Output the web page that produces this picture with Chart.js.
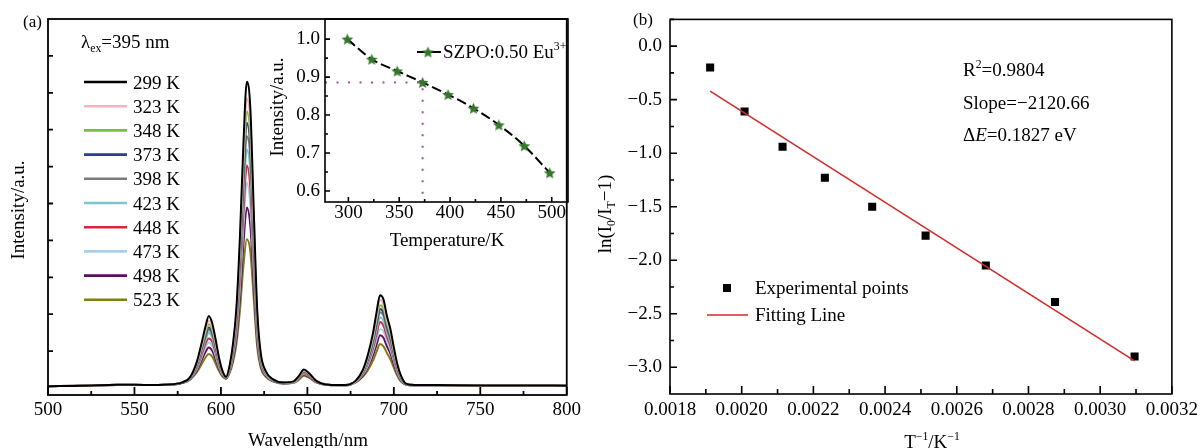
<!DOCTYPE html>
<html>
<head>
<meta charset="utf-8">
<script src="https://cdn.jsdelivr.net/npm/chart.js@4.4.0/dist/chart.umd.min.js"></script>
<style>
  body { margin: 0; background: #fff; }
  #wrap { position: relative; width: 1203px; height: 448px; overflow: hidden; background: #fff; }
  canvas { position: absolute; top: 0; }
  #ca { left: 0; }
  #ci { left: 270px; }
  #cb { left: 585px; }
</style>
</head>
<body>
<div id="wrap">
  <canvas id="ca" width="585" height="448"></canvas>
  <canvas id="ci" width="315" height="260"></canvas>
  <canvas id="cb" width="618" height="448"></canvas>
</div>
<script>
// ---- panel (a): emission spectra ----
const wavelength = [500,520,540,560,572,578,582,586,589,591,593,595,597,599,601,603,605,607,609,611,613,615,617,619,621,623,626,630,636,642,645,648,651,655,662,672,678,682,685,688,690,692,694,696,698,700,702,704,707,712,725,750,775,800];
const s299 = [0.05,0.06,0.09,0.08,0.10,0.16,0.28,0.70,1.25,1.65,1.95,1.75,1.30,0.80,0.45,0.30,0.60,1.20,2.20,4.10,6.60,8.30,7.60,4.80,2.10,0.95,0.45,0.24,0.15,0.18,0.32,0.50,0.40,0.20,0.09,0.08,0.20,0.48,0.90,1.50,2.05,2.51,2.40,1.95,1.60,1.10,0.65,0.35,0.12,0.08,0.08,0.07,0.07,0.06];
const s323 = [0.05,0.06,0.09,0.08,0.10,0.16,0.27,0.67,1.19,1.56,1.82,1.65,1.23,0.76,0.43,0.30,0.58,1.15,2.09,3.88,6.24,7.84,7.17,4.54,1.99,0.91,0.43,0.23,0.15,0.18,0.31,0.48,0.39,0.20,0.09,0.08,0.19,0.46,0.85,1.42,1.93,2.39,2.26,1.84,1.51,1.04,0.62,0.33,0.12,0.08,0.08,0.07,0.07,0.06];
const s348 = [0.05,0.06,0.09,0.08,0.10,0.16,0.27,0.64,1.13,1.48,1.73,1.57,1.17,0.73,0.42,0.29,0.56,1.10,2.00,3.70,5.94,7.50,6.82,4.32,1.90,0.87,0.42,0.23,0.14,0.17,0.30,0.46,0.38,0.19,0.09,0.08,0.19,0.44,0.82,1.35,1.84,2.24,2.15,1.75,1.44,0.99,0.59,0.32,0.11,0.08,0.08,0.07,0.07,0.06];
const s373 = [0.05,0.06,0.09,0.08,0.10,0.15,0.26,0.62,1.09,1.42,1.64,1.50,1.12,0.70,0.41,0.29,0.54,1.06,1.92,3.54,5.68,7.19,6.51,4.13,1.82,0.84,0.41,0.22,0.14,0.17,0.29,0.45,0.37,0.19,0.09,0.08,0.19,0.43,0.78,1.29,1.75,2.14,2.04,1.67,1.37,0.95,0.56,0.30,0.11,0.08,0.08,0.07,0.07,0.06];
const s398 = [0.05,0.06,0.09,0.08,0.10,0.15,0.26,0.60,1.04,1.36,1.58,1.44,1.07,0.68,0.40,0.28,0.53,1.03,1.85,3.40,5.45,6.82,6.24,3.96,1.75,0.81,0.40,0.22,0.14,0.17,0.29,0.43,0.36,0.18,0.09,0.08,0.18,0.42,0.75,1.24,1.68,2.05,1.96,1.60,1.31,0.91,0.54,0.29,0.11,0.08,0.08,0.07,0.07,0.06];
const s423 = [0.05,0.06,0.08,0.08,0.10,0.15,0.25,0.57,0.99,1.28,1.49,1.35,1.01,0.64,0.38,0.28,0.51,0.98,1.75,3.20,5.12,6.46,5.85,3.72,1.65,0.77,0.38,0.21,0.14,0.16,0.28,0.42,0.35,0.18,0.09,0.08,0.18,0.40,0.71,1.16,1.57,1.91,1.83,1.50,1.23,0.85,0.51,0.27,0.10,0.08,0.07,0.07,0.07,0.06];
const s448 = [0.05,0.06,0.08,0.08,0.10,0.15,0.25,0.54,0.92,1.19,1.34,1.25,0.94,0.60,0.37,0.27,0.49,0.92,1.64,2.98,4.75,6.03,5.42,3.46,1.54,0.73,0.37,0.21,0.13,0.16,0.26,0.40,0.33,0.17,0.09,0.08,0.17,0.38,0.67,1.08,1.45,1.79,1.69,1.39,1.14,0.79,0.47,0.26,0.10,0.08,0.07,0.07,0.07,0.06];
const s473 = [0.05,0.06,0.08,0.08,0.09,0.15,0.24,0.51,0.85,1.09,1.23,1.14,0.86,0.56,0.35,0.27,0.46,0.86,1.52,2.74,4.36,5.57,4.95,3.17,1.42,0.68,0.35,0.20,0.13,0.15,0.25,0.38,0.32,0.17,0.08,0.07,0.17,0.36,0.61,0.99,1.32,1.59,1.54,1.27,1.04,0.73,0.43,0.23,0.10,0.07,0.07,0.06,0.07,0.06];
const s498 = [0.05,0.06,0.08,0.08,0.09,0.14,0.23,0.47,0.77,0.97,1.10,1.01,0.77,0.51,0.33,0.26,0.44,0.79,1.38,2.46,3.89,4.89,4.40,2.83,1.28,0.62,0.33,0.19,0.12,0.15,0.24,0.36,0.30,0.16,0.08,0.07,0.16,0.33,0.56,0.89,1.17,1.43,1.36,1.13,0.93,0.65,0.39,0.21,0.09,0.07,0.07,0.06,0.07,0.06];
const s523 = [0.05,0.06,0.08,0.08,0.09,0.14,0.22,0.42,0.66,0.82,0.92,0.85,0.65,0.45,0.30,0.25,0.40,0.70,1.20,2.10,3.30,4.03,3.70,2.40,1.10,0.55,0.30,0.18,0.12,0.14,0.22,0.33,0.28,0.15,0.08,0.07,0.15,0.30,0.48,0.75,0.98,1.19,1.13,0.95,0.78,0.55,0.33,0.18,0.09,0.07,0.07,0.06,0.07,0.06];
const tempLabels = ["299 K","323 K","348 K","373 K","398 K","423 K","448 K","473 K","498 K","523 K"];
const spectra = [s299, s323, s348, s373, s398, s423, s448, s473, s498, s523];
const specColors = ["#000000","#f2b6bf","#7cbf3a","#2a3d8e","#7b7b7b","#7ec4d4","#d8263a","#a8cfe8","#5a0e5e","#7f7d14"];
const aXTicks = [500,550,600,650,700,750,800];
const aXMinor = [525,575,625,675,725,775];
const aYTicks = [1,2,3,4,5,6,7,8,9];

// ---- inset: relative intensity vs temperature ----
const insetT = [299,323,348,373,398,423,448,473,498];
const insetI = [1.000,0.947,0.916,0.886,0.854,0.818,0.774,0.719,0.648];
const markT = 373, markI = 0.886;
const insetXTicks = [300,350,400,450,500];
const insetXMinor = [325,375,425,475];
const insetYTicks = [0.6,0.7,0.8,0.9,1.0];
const insetYMinor = [0.65,0.75,0.85,0.95];
const insetXMin = 277, insetXMax = 516, insetYMin = 0.571, insetYMax = 1.053;

// ---- panel (b): Arrhenius fit ----
const invT = [0.001912,0.002008,0.002114,0.002232,0.002364,0.002513,0.002681,0.002874,0.003096];
const lnRatio = [-0.20,-0.61,-0.94,-1.23,-1.50,-1.77,-2.05,-2.39,-2.90];
const fitX = [0.001912, 0.003096];
const fitY = [-0.42, -2.94];
const bXTicks = [0.0018,0.0020,0.0022,0.0024,0.0026,0.0028,0.0030,0.0032];
const bXMinor = [0.0019,0.0021,0.0023,0.0025,0.0027,0.0029,0.0031];
const bYTicks = [0.0,-0.5,-1.0,-1.5,-2.0,-2.5,-3.0];
const bYMinor = [0.25,-0.25,-0.75,-1.25,-1.75,-2.25,-2.75];

const FONT = '"Liberation Serif", "Times New Roman", serif';
const FS = 19;

// draws a line of text made of parts: [text, mode]; mode '', 'sub', 'sup', 'i'
function rich(ctx, parts, x, y, size, align) {
  let w = 0;
  const seg = parts.map(([t, m]) => {
    const s = (m === 'sub' || m === 'sup') ? size * 0.62 : size;
    const f = (m === 'i' ? 'italic ' : '') + s + 'px ' + FONT;
    ctx.font = f;
    const sw = ctx.measureText(t).width;
    w += sw;
    return { t, m, f, sw };
  });
  let cx = align === 'center' ? x - w / 2 : align === 'right' ? x - w : x;
  ctx.textAlign = 'left';
  ctx.textBaseline = 'alphabetic';
  seg.forEach(s => {
    ctx.font = s.f;
    const dy = s.m === 'sub' ? size * 0.2 : s.m === 'sup' ? -size * 0.4 : 0;
    ctx.fillText(s.t, cx, y + dy);
    cx += s.sw;
  });
}

function richV(ctx, parts, cx, cy, size) {
  ctx.save();
  ctx.translate(cx + size * 0.33, cy);
  ctx.rotate(-Math.PI / 2);
  rich(ctx, parts, 0, 0, size, 'center');
  ctx.restore();
}

// frame + inward ticks
const frameTicks = {
  id: 'frameTicks',
  afterDatasetsDraw(chart, args, o) {
    const { ctx, chartArea: a, scales: { x, y } } = chart;
    ctx.save();
    ctx.strokeStyle = '#000';
    ctx.lineWidth = o.lw || 1.6;
    ctx.beginPath();
    const seg = (x1, y1, x2, y2) => { ctx.moveTo(x1, y1); ctx.lineTo(x2, y2); };
    (o.xMajor || []).forEach(v => { const p = x.getPixelForValue(v); seg(p, a.bottom, p, a.bottom - o.major); });
    (o.xMinor || []).forEach(v => { const p = x.getPixelForValue(v); seg(p, a.bottom, p, a.bottom - o.minor); });
    (o.yMajor || []).forEach(v => { const p = y.getPixelForValue(v); seg(a.left, p, a.left + o.ymajor, p); });
    (o.yMinor || []).forEach(v => { const p = y.getPixelForValue(v); seg(a.left, p, a.left + o.yminor, p); });
    ctx.stroke();
    ctx.strokeRect(a.left, a.top, a.right - a.left, a.bottom - a.top);
    ctx.restore();
  }
};

function textPlugin(fn) {
  return { id: 'texts', afterDraw(chart) { const ctx = chart.ctx; ctx.save(); ctx.fillStyle = '#000'; ctx.strokeStyle = '#000'; fn(ctx, chart); ctx.restore(); } };
}

function starCanvas(r, color) {
  const c = document.createElement('canvas');
  const s = Math.ceil(r * 2 + 2);
  c.width = c.height = s;
  const g = c.getContext('2d');
  g.fillStyle = color;
  g.beginPath();
  for (let i = 0; i < 10; i++) {
    const rad = i % 2 ? r * 0.45 : r;
    const ang = -Math.PI / 2 + i * Math.PI / 5;
    g.lineTo(s / 2 + rad * Math.cos(ang), s / 2 + rad * Math.sin(ang) + 0.6);
  }
  g.closePath();
  g.fill();
  return c;
}

const tickFont = { family: FONT, size: FS };
function fixedTicks(list) { return scale => { scale.ticks = list.map(v => ({ value: v })); }; }

Chart.defaults.animation = false;
Chart.defaults.color = '#000';

// ---------- chart (a) ----------
new Chart(document.getElementById('ca'), {
  type: 'line',
  data: {
    datasets: spectra.map((arr, i) => ({
      label: tempLabels[i],
      data: wavelength.map((w, k) => ({ x: w, y: arr[k] })),
      borderColor: specColors[i],
      borderWidth: 2,
      pointRadius: 0,
      cubicInterpolationMode: 'monotone'
    }))
  },
  options: {
    responsive: false,
    layout: { padding: { top: 19, right: 17, left: 0, bottom: 0 } },
    plugins: {
      legend: { display: false }, tooltip: { enabled: false },
      frameTicks: { xMajor: aXTicks, xMinor: aXMinor, yMajor: aYTicks, major: 8, minor: 4, ymajor: 5, lw: 1.8 }
    },
    scales: {
      x: {
        type: 'linear', min: 500, max: 800,
        afterBuildTicks: fixedTicks(aXTicks),
        afterFit: s => { s.height = 53; },
        grid: { display: false, drawTicks: false }, border: { display: false },
        ticks: { font: tickFont, padding: 4, maxRotation: 0, callback: v => String(v) }
      },
      y: {
        type: 'linear', min: -0.19, max: 10,
        afterBuildTicks: fixedTicks(aYTicks),
        afterFit: s => { s.width = 48; },
        grid: { display: false, drawTicks: false }, border: { display: false },
        ticks: { display: false }
      }
    }
  },
  plugins: [frameTicks, textPlugin(ctx => {
    rich(ctx, [['(a)', '']], 23, 27, 17, 'left');
    rich(ctx, [['λ', ''], ['ex', 'sub'], ['=395 nm', '']], 81, 48, FS, 'left');
    tempLabels.forEach((t, i) => {
      const yy = 82 + i * 24.2;
      ctx.strokeStyle = specColors[i];
      ctx.lineWidth = 2.6;
      ctx.beginPath(); ctx.moveTo(84, yy); ctx.lineTo(127, yy); ctx.stroke();
      rich(ctx, [[t, '']], 133, yy + 6.5, FS, 'left');
    });
    rich(ctx, [['Wavelength/nm', '']], 308, 446, FS, 'center');
    richV(ctx, [['Intensity/a.u.', '']], 18, 210, FS);
  })]
});

// ---------- inset ----------
const star = starCanvas(6.2, '#35772b');
new Chart(document.getElementById('ci'), {
  type: 'line',
  data: {
    datasets: [
      {
        data: [{ x: insetXMin, y: markI }, { x: markT, y: markI }, { x: markT, y: insetYMin }],
        borderColor: '#a8489f', borderWidth: 2, borderDash: [2, 9.5], pointRadius: 0, tension: 0
      },
      {
        label: 'SZPO:0.50 Eu3+',
        data: insetT.map((t, k) => ({ x: t, y: insetI[k] })),
        borderColor: '#000', borderWidth: 2, borderDash: [10, 4],
        pointStyle: star, pointRadius: 6, cubicInterpolationMode: 'monotone'
      }
    ]
  },
  options: {
    responsive: false,
    layout: { padding: { top: 19, right: 17, left: 0, bottom: 0 } },
    plugins: {
      legend: { display: false }, tooltip: { enabled: false },
      frameTicks: { xMajor: insetXTicks, xMinor: insetXMinor, yMajor: insetYTicks, yMinor: insetYMinor, major: 5, minor: 3, ymajor: 5, yminor: 3, lw: 1.6 }
    },
    scales: {
      x: {
        type: 'linear', min: insetXMin, max: insetXMax,
        afterBuildTicks: fixedTicks(insetXTicks),
        afterFit: s => { s.height = 58; },
        grid: { display: false, drawTicks: false }, border: { display: false },
        ticks: { font: tickFont, padding: 0, maxRotation: 0, callback: v => String(v) }
      },
      y: {
        type: 'linear', min: insetYMin, max: insetYMax,
        afterBuildTicks: fixedTicks(insetYTicks),
        afterFit: s => { s.width = 55; },
        grid: { display: false, drawTicks: false }, border: { display: false },
        ticks: { font: tickFont, padding: 5, callback: v => v.toFixed(1) }
      }
    }
  },
  plugins: [frameTicks, textPlugin(ctx => {
    ctx.strokeStyle = '#000';
    ctx.lineWidth = 2;
    ctx.beginPath(); ctx.moveTo(147, 52); ctx.lineTo(171, 52); ctx.stroke();
    ctx.drawImage(star, 158 - star.width / 2, 52 - star.height / 2);
    rich(ctx, [['SZPO:0.50 Eu', ''], ['3+', 'sup']], 173, 58, FS, 'left');
    rich(ctx, [['Temperature/K', '']], 177, 246, FS, 'center');
    richV(ctx, [['Intensity/a.u.', '']], 7, 107, FS);
  })]
});

// ---------- chart (b) ----------
const minusFmt = v => v.toFixed(1).replace('-', '\u2212');
new Chart(document.getElementById('cb'), {
  type: 'line',
  data: {
    datasets: [
      {
        label: 'Fitting Line',
        data: fitX.map((x, k) => ({ x, y: fitY[k] })),
        borderColor: '#d42a2a', borderWidth: 1.6, pointRadius: 0
      },
      {
        label: 'Experimental points',
        data: invT.map((x, k) => ({ x, y: lnRatio[k] })),
        showLine: false, pointStyle: 'rect', pointRadius: 5.7,
        backgroundColor: '#000', borderColor: '#000', borderWidth: 0
      }
    ]
  },
  options: {
    responsive: false,
    layout: { padding: { top: 18, right: 27, left: 0, bottom: 0 } },
    plugins: {
      legend: { display: false }, tooltip: { enabled: false },
      frameTicks: { xMajor: bXTicks, xMinor: bXMinor, yMajor: bYTicks, yMinor: bYMinor, major: 8, minor: 5, ymajor: 7, yminor: 4, lw: 1.6 }
    },
    scales: {
      x: {
        type: 'linear', min: 0.0018, max: 0.0032,
        afterBuildTicks: fixedTicks(bXTicks),
        afterFit: s => { s.height = 54; },
        grid: { display: false, drawTicks: false }, border: { display: false },
        ticks: { font: tickFont, padding: 5, maxRotation: 0, callback: v => v.toFixed(4) }
      },
      y: {
        type: 'linear', min: -3.25, max: 0.25,
        afterBuildTicks: fixedTicks(bYTicks),
        afterFit: s => { s.width = 85; },
        grid: { display: false, drawTicks: false }, border: { display: false },
        ticks: { font: tickFont, padding: 8, callback: minusFmt }
      }
    }
  },
  plugins: [frameTicks, textPlugin(ctx => {
    rich(ctx, [['(b)', '']], 48, 25, 17, 'left');
    rich(ctx, [['R', ''], ['2', 'sup'], ['=0.9804', '']], 378, 76, FS, 'left');
    rich(ctx, [['Slope=\u22122120.66', '']], 378, 109, FS, 'left');
    rich(ctx, [['\u0394', ''], ['E', 'i'], ['=0.1827 eV', '']], 378, 141, FS, 'left');
    ctx.fillRect(142 - 4, 288 - 4, 8, 8);
    rich(ctx, [['Experimental points', '']], 170, 294, FS, 'left');
    ctx.strokeStyle = '#d42a2a';
    ctx.lineWidth = 1.6;
    ctx.beginPath(); ctx.moveTo(122, 315); ctx.lineTo(163, 315); ctx.stroke();
    rich(ctx, [['Fitting Line', '']], 170, 321, FS, 'left');
    rich(ctx, [['T', ''], ['\u22121', 'sup'], ['/K', ''], ['\u22121', 'sup']], 347, 448, FS, 'center');
    richV(ctx, [['ln(I', ''], ['0', 'sub'], ['/I', ''], ['T', 'sub'], ['\u22121)', '']], 20, 214, FS);
  })]
});
</script>
</body>
</html>
